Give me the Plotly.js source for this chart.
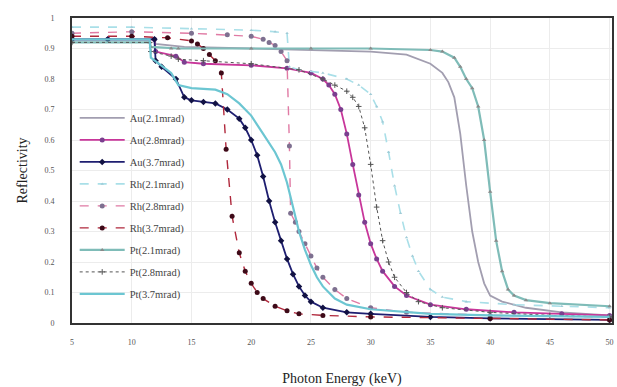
<!DOCTYPE html>
<html>
<head>
<meta charset="utf-8">
<script src="https://cdn.plot.ly/plotly-3.0.1.min.js"></script>
<style>html,body{margin:0;padding:0;background:#fff;}#chart{width:617px;height:387px;}</style>
</head>
<body>
<div id="chart"></div>
<script>
// ---- Data ----
const seriesNames = ["Au(2.1mrad)","Au(2.8mrad)","Au(3.7mrad)","Rh(2.1mrad)","Rh(2.8mrad)","Rh(3.7mrad)","Pt(2.1mrad)","Pt(2.8mrad)","Pt(3.7mrad)"];

const auE21 = [5,10,11.9,12,14.4,20,25,30,33,34,35,36,36.5,37,37.5,38,38.5,39,39.5,40,41,43,46,50];
const auR21 = [.93,.93,.93,.915,.905,.9,.895,.89,.88,.865,.85,.82,.79,.74,.62,.45,.3,.2,.13,.09,.07,.05,.035,.025];

const auE28 = [5,8,11.9,12,13.7,14.4,16,20,23,25,26,26.5,27,27.5,28,28.5,29,29.5,30,30.5,31,32,33,35,38,42,46,50];
const auR28 = [.93,.93,.93,.89,.875,.855,.85,.845,.835,.82,.8,.78,.75,.7,.62,.52,.42,.33,.26,.21,.17,.12,.09,.06,.045,.035,.03,.025];

const auE37 = [5,8,11.9,12,12.5,13.7,14.4,15,16,17,18,19,19.5,20,20.5,21,21.5,22,22.5,23,23.5,24,24.5,25,26,28,30,35,40,50];
const auR37 = [.93,.93,.93,.86,.84,.8,.74,.73,.725,.72,.7,.67,.64,.6,.55,.48,.4,.33,.27,.21,.16,.12,.09,.07,.05,.035,.03,.02,.015,.01];

const rhE21 = [5,10,15,20,22,23,23.2,24,26,28,29,30,30.5,31,31.5,32,32.5,33,33.5,34,35,36,38,42,46,50];
const rhR21 = [.97,.97,.965,.96,.955,.95,.84,.83,.82,.8,.78,.75,.71,.66,.56,.45,.36,.28,.22,.17,.11,.085,.07,.06,.055,.05];

const rhE28 = [5,10,15,18,20,21,21.5,22,22.5,23,23.2,23.3,23.7,24,24.5,25,25.5,26,27,28,30,33,40,50];
const rhR28 = [.95,.955,.95,.945,.94,.93,.92,.91,.89,.86,.58,.36,.33,.3,.26,.22,.18,.15,.11,.08,.05,.035,.025,.02];

const rhE37 = [5,10,13,15,15.5,16,16.5,17,17.5,17.9,18.4,19,19.5,20,20.5,21,22,23,24,26,30,40,50];
const rhR37 = [.94,.94,.935,.925,.915,.9,.88,.86,.82,.57,.35,.23,.17,.13,.1,.08,.055,.04,.03,.025,.02,.015,.01];

const ptE21 = [5,11.5,11.6,13.3,13.9,20,25,30,35,36,37,37.5,38,38.5,39,39.5,40,40.5,41,41.5,42,43,45,50];
const ptR21 = [.92,.92,.905,.9,.9,.9,.9,.9,.895,.89,.87,.84,.8,.77,.71,.6,.43,.27,.17,.11,.09,.075,.065,.055];

const ptE28 = [5,11.5,11.6,13.3,13.9,16,20,24,26,27,28,28.5,29,29.5,30,30.5,31,31.5,32,33,34,36,40,45,50];
const ptR28 = [.92,.92,.89,.875,.865,.86,.85,.83,.8,.78,.76,.74,.71,.64,.52,.38,.27,.2,.15,.1,.07,.05,.035,.025,.02];

const ptE37 = [5,11.5,11.6,13.3,13.9,15,17,18,19,20,21,21.5,22,22.5,23,23.5,24,24.5,25,25.5,26,27,28,30,35,40,50];
const ptR37 = [.93,.93,.87,.82,.78,.77,.765,.75,.72,.68,.62,.59,.56,.52,.46,.38,.3,.24,.19,.15,.12,.08,.06,.045,.03,.025,.02];

const xTickVals = [5,10,15,20,25,30,35,40,45,50];

// ---- Styling ----
const serif = "Liberation Serif, Times New Roman, serif";
function tr(i, x, y, lineColor, width, dash, marker) {
  const t = {
    type: "scatter", x: x, y: y, name: seriesNames[i], legendgroup: "g" + i,
    mode: marker ? "lines+markers" : "lines",
    line: {color: lineColor, width: width, dash: dash},
  };
  if (marker) t.marker = marker;
  return t;
}

const traces = [
  tr(0, auE21, auR21, "#a29eb0", 1.8, "solid", null),
  tr(1, auE28, auR28, "#c8369a", 1.8, "solid", {color: "#7b3f8f", size: 5, symbol: "circle"}),
  tr(2, auE37, auR37, "#1e1e70", 1.8, "solid", {color: "#121244", size: 5, symbol: "diamond"}),
  tr(3, rhE21, rhR21, "#a9dfe8", 1.6, "dash", {color: "#9fcbd6", size: 3, symbol: "triangle-up"}),
  tr(4, rhE28, rhR28, "#e07aa4", 1.4, "dash", {color: "#7e7090", size: 5, symbol: "circle"}),
  tr(5, rhE37, rhR37, "#b0283c", 1.4, "dash", {color: "#3e0a18", size: 5, symbol: "circle"}),
  tr(6, ptE21, ptR21, "#7fbcb8", 2.2, "solid", {color: "#8a8a8a", size: 4, symbol: "triangle-up"}),
  tr(7, ptE28, ptR28, "#555555", 1.0, "dot", {color: "#555555", size: 4, symbol: "cross-thin", line: {color: "#555555", width: 1}}),
  tr(8, ptE37, ptR37, "#6cc6d2", 2.2, "solid", null),
];

const layout = {
  width: 617, height: 387,
  margin: {l: 72, r: 5, t: 18, b: 64},
  paper_bgcolor: "#ffffff", plot_bgcolor: "#ffffff",
  font: {family: serif, color: "#333"},
  showlegend: true,
  legend: {
    x: 0.005, xanchor: "left", y: 0.72, yanchor: "top",
    bgcolor: "rgba(255,255,255,0)", borderwidth: 0,
    font: {family: serif, size: 10.5, color: "#444"},
    traceorder: "grouped", tracegroupgap: 3, itemwidth: 45
  },
  xaxis: {
    range: [5, 50.2], tickvals: xTickVals, ticks: "", ticklabelstandoff: 10,
    tickfont: {family: serif, size: 8, color: "#555"},
    showgrid: true, gridcolor: "#ececec", zeroline: false,
    showline: true, mirror: true, linecolor: "#333", linewidth: 2,
    title: {text: "Photon Energy (keV)", font: {family: serif, size: 14, color: "#222"}, standoff: 28}
  },
  yaxis: {
    range: [0, 1], dtick: 0.1, tick0: 0, ticks: "", ticklabelstandoff: 14,
    tickfont: {family: serif, size: 8, color: "#555"},
    showgrid: true, gridcolor: "#ececec", zeroline: false,
    showline: true, mirror: true, linecolor: "#333", linewidth: 2,
    title: {text: "Reflectivity", font: {family: serif, size: 14, color: "#222"}, standoff: 14}
  }
};

Plotly.newPlot("chart", traces, layout, {displayModeBar: false, staticPlot: true});
</script>
</body>
</html>
